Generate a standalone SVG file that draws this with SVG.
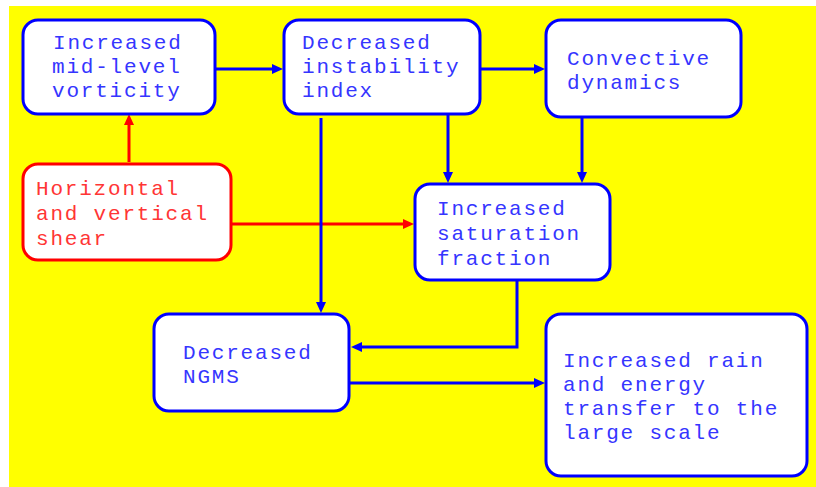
<svg xmlns="http://www.w3.org/2000/svg" width="816" height="487" viewBox="0 0 816 487">
<defs>
<style>
.box{fill:#fff;stroke-width:3}
.b{stroke:#0000ff}
.r{stroke:#ff0000}
.t{font-family:"Liberation Mono","Courier New",monospace;font-size:21px;letter-spacing:1.8px}
.tb{fill:#3535ff}
.tr{fill:#ff3535}
.c{fill:none;stroke-width:3}
</style>
<marker id="ab" markerUnits="userSpaceOnUse" markerWidth="12" markerHeight="10" refX="5" refY="5" orient="auto"><path d="M0,0 L11,5 L0,10 z" fill="#0000ff"/></marker>
<marker id="ar" markerUnits="userSpaceOnUse" markerWidth="12" markerHeight="10" refX="5" refY="5" orient="auto"><path d="M0,0 L11,5 L0,10 z" fill="#ff0000"/></marker>
</defs>
<rect x="9" y="6" width="807" height="481" fill="#ffff00"/>
<g id="connectors">
<path class="c b" d="M216,69 H277" marker-end="url(#ab)"/>
<path class="c b" d="M481,69 H539" marker-end="url(#ab)"/>
<path class="c r" d="M129,162 V120" marker-end="url(#ar)"/>
<path class="c r" d="M232,224 H408" marker-end="url(#ar)"/>
<path class="c b" d="M321,118 V307" marker-end="url(#ab)"/>
<path class="c b" d="M448,114 V177" marker-end="url(#ab)"/>
<path class="c b" d="M582,118 V177" marker-end="url(#ab)"/>
<path class="c b" d="M517,281 V347 H357" marker-end="url(#ab)"/>
<path class="c b" d="M350,383 H539" marker-end="url(#ab)"/>
</g>
<g id="vorticity">
<rect class="box b" x="23" y="20" width="192" height="94" rx="15"/>
<text class="t tb"><tspan x="53" y="49">Increased</tspan><tspan x="52" y="73">mid-level</tspan><tspan x="52" y="97">vorticity</tspan></text>
</g>
<g id="shear">
<rect class="box r" x="23" y="164" width="208" height="96" rx="15"/>
<text class="t tr"><tspan x="36" y="195">Horizontal</tspan><tspan x="36" y="220">and vertical</tspan><tspan x="36" y="245">shear</tspan></text>
</g>
<g id="instability">
<rect class="box b" x="284" y="20" width="196" height="94" rx="15"/>
<text class="t tb"><tspan x="302" y="49">Decreased</tspan><tspan x="302" y="73">instability</tspan><tspan x="302" y="97">index</tspan></text>
</g>
<g id="convective">
<rect class="box b" x="546" y="20" width="195" height="97" rx="15"/>
<text class="t tb"><tspan x="567" y="65">Convective</tspan><tspan x="567" y="89">dynamics</tspan></text>
</g>
<g id="saturation">
<rect class="box b" x="415" y="184" width="195" height="96" rx="15"/>
<text class="t tb"><tspan x="437" y="215">Increased</tspan><tspan x="437" y="240">saturation</tspan><tspan x="437" y="265">fraction</tspan></text>
</g>
<g id="ngms">
<rect class="box b" x="154" y="314" width="195" height="97" rx="15"/>
<text class="t tb"><tspan x="183" y="359">Decreased</tspan><tspan x="183" y="383">NGMS</tspan></text>
</g>
<g id="rain">
<rect class="box b" x="546" y="314" width="261" height="162" rx="15"/>
<text class="t tb"><tspan x="563" y="367">Increased rain</tspan><tspan x="563" y="391">and energy</tspan><tspan x="563" y="415">transfer to the</tspan><tspan x="563" y="439">large scale</tspan></text>
</g>
</svg>
